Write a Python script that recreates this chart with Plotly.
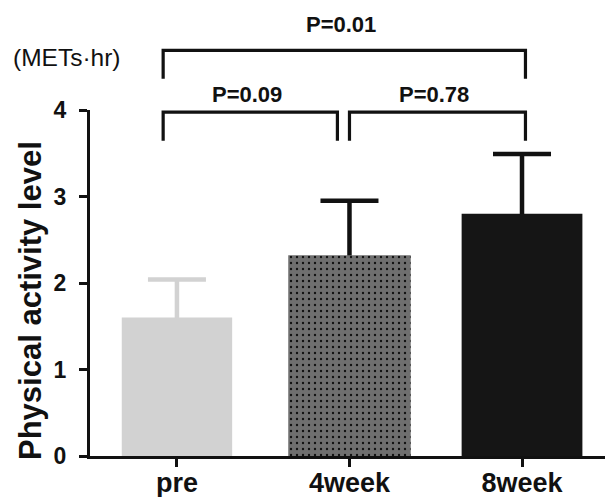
import plotly.graph_objects as go

# ---- data ----
categories = ["pre", "4week", "8week"]
means = [1.60, 2.32, 2.80]
sds = [0.44, 0.63, 0.69]
bar_colors = ["#d2d2d2", "#6f6f6f", "#151515"]
err_colors = ["#d2d2d2", "#111111", "#111111"]
bar_widths = [0.64, 0.71, 0.70]
y_ticks = [0, 1, 2, 3, 4]
comparisons = [(0, 1, "P=0.09", 0), (1, 2, "P=0.78", 0), (0, 2, "P=0.01", 1)]

W, H = 605, 497
L, R, T, B = 90, 0, 110, 41
PW, PH = W - L - R, H - T - B
Y_MAX = 4
FONT = "Liberation Sans, Arial, sans-serif"

fig = go.Figure()
xs = list(range(len(categories)))

# error-bar carriers (drawn first so real bars hide the lower half)
for i in xs:
    fig.add_trace(go.Bar(
        x=[xs[i]], y=[means[i]], width=[bar_widths[i]],
        marker=dict(color="rgba(0,0,0,0)", line=dict(width=0)),
        error_y=dict(type="data", array=[sds[i]], symmetric=True,
                     color=err_colors[i], thickness=4.5, width=29),
        showlegend=False, hoverinfo="skip"))

# visible bars
for i in xs:
    marker = dict(color=bar_colors[i], line=dict(width=0))
    if i == 1:
        marker["pattern"] = dict(shape=".", fgcolor="#111111", bgcolor=bar_colors[i],
                                 size=6, solidity=0.12, fillmode="replace")
    fig.add_trace(go.Bar(x=[xs[i]], y=[means[i]], width=[bar_widths[i]],
                         marker=marker, showlegend=False))

# significance brackets (x in data units, y converted to paper so they are not clipped)
def ypaper(v):
    return v / Y_MAX

shapes = []
annotations = []
for (i, j, label, level) in comparisons:
    left = i + (-0.08 if i == 0 else 0.0)
    right = j + (-0.07 if j == 1 else 0.02)
    top = 3.975 + 0.715 * level
    bottom = top - 0.33
    shapes.append(dict(type="path", xref="x", yref="paper",
                       path=(f"M {left},{ypaper(bottom)} L {left},{ypaper(top)} "
                             f"L {right},{ypaper(top)} L {right},{ypaper(bottom)}"),
                       line=dict(color="#111111", width=3.2)))
    annotations.append(dict(x=(left + right) / 2, y=ypaper(top + 0.2 + 0.1 * level),
                            xref="x", yref="paper", text=f"<b>{label}</b>", showarrow=False,
                            xanchor="center", yanchor="middle", xshift=-3,
                            font=dict(family=FONT, size=22, color="#111111")))

annotations.append(dict(x=(30 - L) / PW, y=(H - B - 301) / PH, xref="paper", yref="paper",
                        text="<b>Physical activity level</b>", textangle=-90, showarrow=False,
                        xanchor="center", yanchor="middle",
                        font=dict(family=FONT, size=31, color="#111111")))
annotations.append(dict(x=(67 - L) / PW, y=(H - B - 57) / PH, xref="paper", yref="paper",
                        text="(METs·hr)", showarrow=False,
                        xanchor="center", yanchor="middle",
                        font=dict(family=FONT, size=24.5, color="#111111")))

fig.update_layout(
    width=W, height=H, margin=dict(l=L, r=R, t=T, b=B, autoexpand=False),
    barmode="overlay", plot_bgcolor="white", paper_bgcolor="white",
    shapes=shapes, annotations=annotations,
    xaxis=dict(range=[-0.504, 2.481], tickvals=xs, ticktext=[f"<b>{c}</b>" for c in categories],
               showline=True, linecolor="#111111", linewidth=3, ticks="outside",
               ticklen=8, tickwidth=3, tickcolor="#111111", showgrid=False, zeroline=False,
               ticklabelstandoff=-7,
               tickfont=dict(family=FONT, size=27, color="#111111")),
    yaxis=dict(range=[0, Y_MAX], tickvals=y_ticks, ticktext=[f"<b>{v}</b>" for v in y_ticks],
               showline=True, linecolor="#111111", linewidth=3, ticks="outside",
               ticklen=8, tickwidth=3, tickcolor="#111111", showgrid=False, zeroline=False,
               ticklabelstandoff=8,
               tickfont=dict(family=FONT, size=23, color="#111111")),
)

fig.write_html("out.html")
